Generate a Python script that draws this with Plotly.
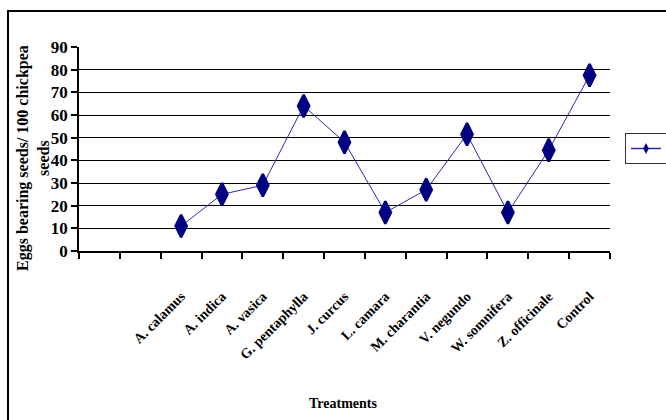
import plotly.graph_objects as go

# Treatments (x) and eggs-bearing seeds per 100 chickpea seeds (y)
treatments = ["A. calamus", "A. indica", "A. vasica", "G. pentaphylla", "J. curcus",
              "L. camara", "M. charantia", "V. negundo", "W. somnifera",
              "Z. officinale", "Control"]
eggs = [11, 25, 29, 64, 48, 17, 27, 51.5, 17, 44.5, 77.5]
# two unused category slots precede the treatments on the axis
leading_slots = ["\u00a0", "\u00a0\u00a0"]
y_ticks = list(range(0, 100, 10))

W, H = 666, 420
L, R, T, B = 79, 56, 47, 169
PW, PH = W - L - R, H - T - B

def px_x(p):
    return (p - L) / PW

def px_y(p):
    return (H - B - p) / PH

serif = "Liberation Serif"
navy = "#000080"

fig = go.Figure()
fig.add_trace(go.Scatter(
    x=treatments, y=eggs, mode="lines+markers", showlegend=False,
    line=dict(color="#2b2ba6", width=1),
    marker=dict(symbol="diamond-tall", size=16, color=navy,
                line=dict(color=navy, width=2.5)),
))
# legend entry with a small symbol (its label falls past the page edge)
fig.add_trace(go.Scatter(
    x=[None], y=[None], mode="lines+markers", name=" ",
    line=dict(color="#2b2ba6", width=1.5),
    marker=dict(symbol="diamond-tall", size=8, color=navy),
))

fig.update_layout(
    width=W, height=H,
    margin=dict(l=L, r=R, t=T, b=B, autoexpand=False),
    paper_bgcolor="white", plot_bgcolor="white",
    showlegend=True,
    legend=dict(x=px_x(625), y=px_y(133), xanchor="left", yanchor="top",
                bordercolor="#333", borderwidth=1,
                font=dict(family=serif, size=12, color="black")),
    xaxis=dict(
        type="category", categoryorder="array",
        categoryarray=leading_slots + treatments,
        range=[-0.5, len(leading_slots) + len(treatments) - 0.5],
        tickson="boundaries", ticks="outside", ticklen=6, tickcolor="black",
        tickwidth=1.5, showline=True, linecolor="black", linewidth=1.5,
        showgrid=False, tickangle=-45, ticklabelstandoff=30,
        tickfont=dict(family=serif, size=14, color="black", weight="bold"),
    ),
    yaxis=dict(
        range=[0, 90], tickvals=y_ticks, ticks="outside", ticklen=6,
        tickcolor="black", tickwidth=1.5, showline=True, linecolor="black",
        linewidth=1.5, showgrid=True, gridcolor="black", gridwidth=1.3,
        zeroline=False,
        tickfont=dict(family=serif, size=17, color="black", weight="bold"),
    ),
    font=dict(family=serif, color="black"),
)

fig.add_annotation(
    text="Eggs bearing seeds/ 100 chickpea<br>seeds", textangle=-90,
    xref="paper", yref="paper", x=px_x(33), y=px_y(158),
    xanchor="center", yanchor="middle", showarrow=False,
    font=dict(family=serif, size=16, color="black", weight="bold"),
)
fig.add_annotation(
    text="Treatments", xref="paper", yref="paper",
    x=px_x(343), y=px_y(403), xanchor="center", yanchor="middle",
    showarrow=False,
    font=dict(family=serif, size=14, color="black", weight="bold"),
)

# outer frame (right and bottom edges fall outside the page)
fig.add_shape(type="rect", xref="paper", yref="paper",
              x0=px_x(8), x1=px_x(700), y0=px_y(460), y1=px_y(11),
              line=dict(color="black", width=2), layer="above")

fig.write_html("out.html")
